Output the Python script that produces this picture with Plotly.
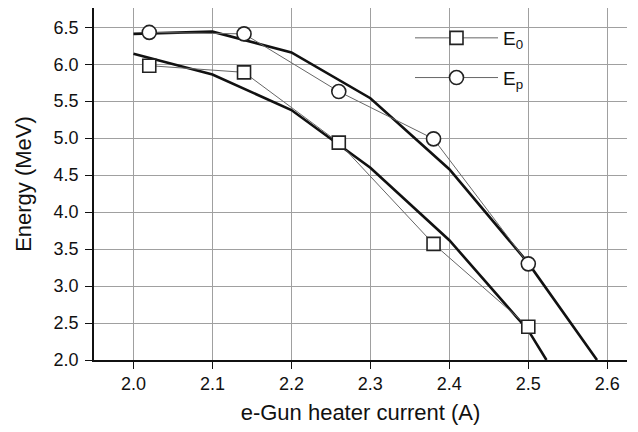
import plotly.graph_objects as go

# measured data points
current = [2.02, 2.14, 2.26, 2.38, 2.50]
E0 = [5.98, 5.89, 4.94, 3.57, 2.45]
Ep = [6.43, 6.41, 5.63, 4.99, 3.30]

# fitted curves
fit0_x = [2.0, 2.1, 2.2, 2.3, 2.4, 2.5, 2.523]
fit0_y = [6.14, 5.86, 5.38, 4.60, 3.62, 2.40, 2.0]
fitp_x = [2.0, 2.1, 2.2, 2.3, 2.4, 2.5, 2.587]
fitp_y = [6.41, 6.44, 6.16, 5.54, 4.58, 3.31, 2.0]

x_ticks = [2.0, 2.1, 2.2, 2.3, 2.4, 2.5, 2.6]
y_ticks = [2.0, 2.5, 3.0, 3.5, 4.0, 4.5, 5.0, 5.5, 6.0, 6.5]

# the page body adds an 8px offset; the figure is sized to fit the window
OFF = 8
W, H = 638 - OFF, 432 - OFF
L, T, R, B = 94 - OFF, 8 - OFF, 11, 72
PW = W - L - R
PH = H - T - B

fig = go.Figure()
fig.add_trace(go.Scatter(x=fit0_x, y=fit0_y, mode="lines",
                         line=dict(color="#111", width=2.6), showlegend=False, hoverinfo="skip"))
fig.add_trace(go.Scatter(x=fitp_x, y=fitp_y, mode="lines",
                         line=dict(color="#111", width=2.6), showlegend=False, hoverinfo="skip"))
fig.add_trace(go.Scatter(x=current, y=E0, mode="lines+markers", name="E<sub>0</sub>",
                         legendgroup="a",
                         line=dict(color="#666", width=1),
                         marker=dict(symbol="square", size=13, color="white",
                                     line=dict(color="#222", width=1.6))))
fig.add_trace(go.Scatter(x=current, y=Ep, mode="lines+markers", name="E<sub>p</sub>",
                         legendgroup="b",
                         line=dict(color="#666", width=1),
                         marker=dict(symbol="circle", size=14, color="white",
                                     line=dict(color="#222", width=1.6))))

fig.add_shape(type="rect", xref="paper", yref="paper",
              x0=(408 - 94) / PW, x1=(537 - 94) / PW,
              y0=(360 - 100) / PH, y1=(360 - 22) / PH,
              fillcolor="white", line=dict(width=0), layer="between")

fig.update_layout(
    width=W, height=H,
    margin=dict(l=L, r=R, t=T, b=B, autoexpand=False),
    paper_bgcolor="white", plot_bgcolor="white",
    font=dict(family="Liberation Sans, Arial, sans-serif", size=18, color="#111"),
    legend=dict(x=(410 - 94) / PW, y=(360 - 19) / PH, xanchor="left", yanchor="top",
                bgcolor="rgba(255,255,255,0)", font=dict(size=19), itemwidth=83,
                tracegroupgap=12),
    xaxis=dict(range=[1.95, 2.625], tickvals=x_ticks, tickformat=".1f",
               showgrid=True, gridcolor="#a0a0a0", gridwidth=1,
               showline=True, linecolor="#111", linewidth=1.6,
               ticks="outside", ticklen=7, tickcolor="#111", tickwidth=1.2,
               title=dict(text="e-Gun heater current (A)", standoff=11),
               zeroline=False, automargin=False),
    yaxis=dict(range=[2.0, 6.76], tickvals=y_ticks, tickformat=".1f",
               showgrid=True, gridcolor="#a0a0a0", gridwidth=1,
               showline=True, linecolor="#111", linewidth=1.6,
               ticks="outside", ticklen=7, tickcolor="#111", tickwidth=1.2,
               ticklabelstandoff=3,
               title=dict(text="Energy (MeV)", standoff=16),
               zeroline=False, automargin=False),
)

fig.write_html("out.html")
